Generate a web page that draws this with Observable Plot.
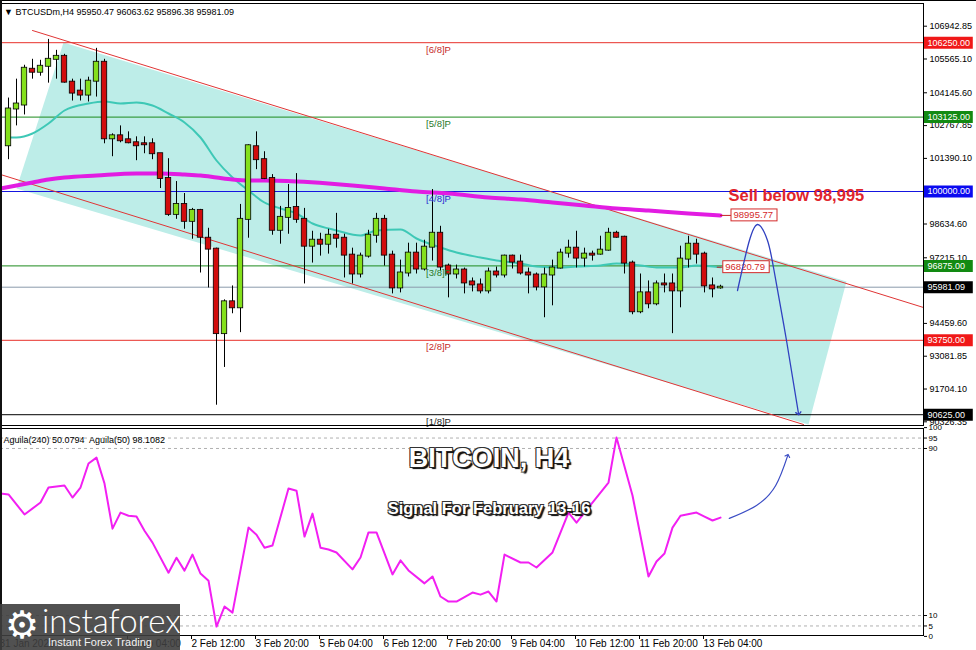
<!DOCTYPE html>
<html><head><meta charset="utf-8">
<script src="https://cdn.jsdelivr.net/npm/d3@7"></script>
<script src="https://cdn.jsdelivr.net/npm/@observablehq/plot@0.6"></script>
<style>
body{margin:0;background:#fff;}
#wrap{position:relative;width:976px;height:650px;overflow:hidden;background:#fff;font-family:"Liberation Sans",Arial,sans-serif;}
#wrap svg{position:absolute;left:0;overflow:visible;}
.ov{position:absolute;white-space:nowrap;}
.big{color:#fff;font-weight:bold;transform:translate(-50%,-50%);text-shadow:1px 1px 0 #222,2px 2px 1px #000,-1px -1px 0 #333,1px -1px 0 #333,-1px 1px 0 #333;}
</style></head><body><div id="wrap"></div>
<script>
// ---------- DATA ----------
const symbolHeader = "BTCUSDm,H4  95950.47 96063.62 95896.38 95981.09";
const openP  = [101920,103465,103632,105135,105010,105260,105553,105678,104593,104217,104050,104634,105428,102213,102338,102171,102046,102004,102004,101586,100543,99040,99457,98748,99207,98038,97580,94030,95366,95115,98831,101879,101336,100543,98372,98915,99332,98831,97704,97954,97787,98163,98038,97328,96535,97286,98163,98831,97328,95950,96577,97412,96744,97662,98247,96869,96535,96702,96201,96075,95825,96618,96493,97286,97036,96577,96493,95992,96493,96785,97412,97620,97203,97370,97370,97537,98247,98080,96994,94948,95742,95282,96117,96117,95825,97161,97787,97370,96034,95950.47];
const highP  = [103925,104718,105302,105553,105511,106388,105929,105762,104718,104718,104801,106012,105553,102422,102755,102505,102296,102296,102213,101586,101378,100418,99916,99290,99249,98455,97620,95449,96034,99457,101962,102505,101670,100710,99374,100292,100752,99290,98330,98247,98414,99082,98205,97620,97412,98372,99082,98998,97495,97119,97829,97829,97954,100083,98539,96952,96911,96785,96368,96326,96785,96827,97328,97328,97328,96785,96577,96785,97119,97579,97954,98330,97620,97495,98122,98455,98330,98122,97078,96535,96243,96243,96535,96535,97704,98122,97996,97453,96368,96063.62];
const lowP   = [101336,102755,103215,104718,104843,104551,104718,104551,103800,103800,103758,103966,102004,101461,102046,102004,101294,101586,101336,100125,98956,98831,98414,97996,96577,95950,91024,92610,94865,94072,98038,100918,100500,98163,97787,98205,98664,96117,96994,97286,97370,97620,96368,96117,96368,97203,97829,96869,95700,95742,96410,96535,96660,97078,96660,95533,96326,95700,95783,95700,95700,96368,96368,96744,96493,95700,95825,94698,95199,96744,97203,96785,96827,97078,97328,97495,98038,96535,94823,94865,95074,95199,95742,94030,95115,96785,96952,95742,95533,95896.38];
const closeP = [103465,103674,105177,105010,105260,105553,105678,104593,104133,104050,104634,105428,102213,102338,102130,102046,101920,101962,101586,100543,99040,99457,98748,99207,98080,97580,94030,95366,95115,98831,101920,101336,100543,98372,98915,99290,98831,97704,97954,97787,98163,98038,97328,96535,97286,98163,98831,97328,95950,96577,97412,96744,97662,98247,96827,96535,96702,96159,96075,95825,96618,96493,97286,97036,96577,96493,95992,96493,96785,97412,97620,97203,97370,97328,97537,98247,98080,96994,94948,95742,95282,96117,96075,95825,97161,97787,97370,96034,95909,95981.09];

// fast moving average (teal), read at sampled bars
const maFastBar = [0,1,3,5,7,10,12,14,16,18,20,22,24,26,28,30,32,34,36,38,40,41,44,46,49,51,54,56,59,61,64,66,69,71,74,76,79,81,84,86,89];
const maFastVal = [102268,102268,102436,102856,103402,103696,103780,103696,103738,103612,103276,102898,102268,101302,100588,100042,99538,99286,99076,98656,98446,98362,98152,98362,98404,98026,97648,97438,97228,97102,96976,96850,96808,96850,96892,96976,96892,96808,96808,96892,96820.79];
// slow moving average (magenta)
const maSlowBar = [-1,1,3,5,7,11,16,19,22,24,26,28,30,32,36,40,43,47,51,55,60,64,68,72,76,80,85,89];
const maSlowVal = [100126,100252,100378,100504,100588,100672,100756,100756,100714,100672,100588,100504,100462,100462,100420,100336,100252,100126,100000,99916,99748,99664,99538,99412,99286,99202,99076,98995.77];

// price channel
const upperTrendBar = [3, 114.375];
const upperTrendVal = [106762, 95128];
const lowerTrendBar = [-1, 99.375];
const lowerTrendVal = [100714, 90214];
const channelBar = [6.875, 104.75, 100, 1];
const channelVal = [106258, 96220, 90214, 100126];

// Murrey levels
const levelPrices = [106250, 103125, 100000, 96875, 93750, 90625];
const levelNames  = ["[6/8]P", "[5/8]P", "[4/8]P", "[3/8]P", "[2/8]P", "[1/8]P"];
const lastPrice = 95981.09;

// right price axis ticks
const priceTicks = [106942.85, 105565.10, 104145.60, 102767.85, 101390.10, 98634.60, 97215.10, 94459.60, 93081.85, 91704.10, 90326.35];

// forecast arrow (price panel)
const arrowBar = [91.125, 92.375, 93.625, 94.875, 95.625, 97.25, 98.75];
const arrowVal = [95842, 97648, 98614, 97942, 96808, 93742, 90676];
const sellText = "Sell below 98,995";

// Aguila oscillator
const aguilaBar = [-1,0,2,4,5,7,8,9,10,11,12,13,14,15,16,17,18,20,21,22,23,24,25,26,27,28,30,31,32,33,35,36,37,38,39,40,41,43,44,45,46,48,49,50,52,53,54,55,56,58,59,60,61,62,64,65,66,68,70,71,72,75,76,78,80,81,82,83,84,86,87,88,89];
const aguilaVal = [68.4,68.0,58.4,64.1,71.3,72.3,66.5,71.3,82.8,85.6,73.2,51.6,59.3,57.8,57.4,50.6,44.9,30.5,37.7,31.5,39.2,30.1,26.7,4.7,14.3,11.4,52.1,48.7,42.5,43.5,70.8,69.8,47.8,58.8,42.5,41.6,40.2,32.1,37.8,49.8,49.8,29.7,36.4,31.6,25.4,28.7,19.1,16.7,16.7,21.0,20.0,21.5,16.7,39.2,35.4,35.4,33.0,40.2,59.3,54.5,59.3,73.7,95.3,67.5,28.7,35.9,39.7,52.1,57.8,59.3,57.4,55.5,56.9];
const aguilaLevels = [95, 90, 10, 5];
const aguilaTicks = [100, 95, 90, 10, 5, 0];
const aguilaHeader = "Aguila(240) 50.0794  Aguila(50) 98.1082";
const oscArrowBar = [90.1, 93.5, 95.9, 97.4];
const oscArrowVal = [56.5, 62.7, 72.3, 86.6];

// time axis
const timeTickBar = [-1, 15, 23, 31, 39, 47, 55, 63, 71, 79, 87];
const timeTickText = ["31 Jan 2025", "1 Feb 04:00", "2 Feb 12:00", "3 Feb 20:00", "5 Feb 04:00", "6 Feb 12:00", "7 Feb 20:00", "9 Feb 04:00", "10 Feb 12:00", "11 Feb 20:00", "13 Feb 04:00"];

const title = "BITCOIN, H4";
const subtitle = "Signal For February 13-16";

// ---------- BUILD ----------
const levelLineColors = ["#e8302a", "#1c8a1c", "#1515e0", "#1c8a1c", "#e8302a", "#000000"];
const levelTextColors = ["#c62a2a", "#2a7a2a", "#2a2ad0", "#2a7a2a", "#c62a2a", "#222222"];
const tagColors = ["#f01818", "#128a12", "#0a0af0", "#128a12", "#f01818", "#000000"];

const bars = openP.map((o, i) => ({i, o, h: highP[i], l: lowP[i], c: closeP[i]}));
const lastIdx = bars.length - 1;
const pts = (xs, ys) => xs.map((x, k) => ({x, y: ys[k]}));
const maFast = pts(maFastBar, maFastVal);
const maSlow = pts(maSlowBar, maSlowVal);
const upper = pts(upperTrendBar, upperTrendVal);
const lower = pts(lowerTrendBar, lowerTrendVal);
const channel = pts(channelBar, channelVal);
const arrow = pts(arrowBar, arrowVal);
const aguila = pts(aguilaBar, aguilaVal);
const oscArrow = pts(oscArrowBar, oscArrowVal);
const tags = levelPrices.map((p, k) => ({p, col: tagColors[k]})).concat([{p: lastPrice, col: "#000000"}]);
const maTags = [
  {p: maSlowVal[maSlowVal.length - 1], a: 89, b: 90.375, c: 96.125},
  {p: maFastVal[maFastVal.length - 1], a: 88.6, b: 89.35, c: 95.15}
];
const tickMap = new Map(timeTickBar.map((b, k) => [b, timeTickText[k]]));

const xScale = {domain: [0, 100], range: [8, 808]};
const axisEnd = 114.375;
const font = "Liberation Sans, Arial, sans-serif";

const main = Plot.plot({
  width: 976, height: 426,
  marginLeft: 0, marginRight: 53, marginTop: 3, marginBottom: 1,
  x: {...xScale, axis: null},
  y: {domain: [90000, 108000], range: [191 + 10000/42, 191 - 8000/42], axis: null},
  style: {fontFamily: font, fontSize: "9px", background: "none", overflow: "visible"},
  marks: [
    Plot.line(channel, {x: "x", y: "y", fill: "#bdede8", stroke: "none"}),
    Plot.ruleY(levelPrices, {y: d => d, stroke: (d, k) => levelLineColors[k], strokeWidth: 1}),
    Plot.ruleY([lastPrice], {y: d => d, stroke: "#8a9aab", strokeWidth: 1}),
    Plot.line(upper, {x: "x", y: "y", stroke: "#e03535", strokeWidth: 1}),
    Plot.line(lower, {x: "x", y: "y", stroke: "#e03535", strokeWidth: 1}),
    Plot.line(maFast, {x: "x", y: "y", stroke: "#3ec8b6", strokeWidth: 2, curve: "monotone-x"}),
    Plot.line(maSlow, {x: "x", y: "y", stroke: "#e21ce2", strokeWidth: 4, curve: "monotone-x"}),
    Plot.ruleX(bars, {x: "i", y1: "l", y2: "h", stroke: "#000", strokeWidth: 1}),
    Plot.rect(bars, {x1: d => d.i - 0.34, x2: d => d.i + 0.34, y1: "o", y2: "c",
      fill: d => d.c >= d.o ? "#84e01c" : "#d20c0c", stroke: "#000", strokeWidth: 0.8,
      insetTop: -0.5, insetBottom: -0.5}),
    Plot.text(levelPrices, {x: 53.75, y: d => d, text: (d, k) => levelNames[k], fill: (d, k) => levelTextColors[k], dy: 7, fontSize: 9.5}),
    Plot.frame({stroke: "#000"}),
    Plot.axisY(priceTicks, {anchor: "right", tickFormat: d => d.toFixed(2), tickSize: 3, tickPadding: 3, fontSize: 9, label: null}),
    Plot.ruleY(tags, {y: "p", x1: 114.5, x2: 120.6, stroke: "col", strokeWidth: 12}),
    Plot.text(tags, {x: axisEnd, y: "p", text: d => d.p.toFixed(2), fill: "#fff", textAnchor: "start", dx: 4, fontSize: 9}),
    Plot.ruleY(maTags, {y: "p", x1: "a", x2: "b", stroke: "#c42020", strokeWidth: 1}),
    Plot.rect(maTags, {x1: "b", x2: "c", y1: d => d.p - 250, y2: d => d.p + 250, fill: "#fff", stroke: "#d42a2a", strokeWidth: 1}),
    Plot.text(maTags, {x: "b", y: "p", text: d => d.p.toFixed(2), fill: "#d42a2a", textAnchor: "start", dx: 2, fontSize: 9.5}),
    Plot.text([sellText], {x: lastIdx, y: 100000, text: d => d, dx: 8, dy: 4, textAnchor: "start", fill: "#e0242c", fontWeight: "bold", fontSize: 16.5}),
    Plot.line(arrow, {x: "x", y: "y", curve: "natural", stroke: "#3040c0", strokeWidth: 1.3, markerEnd: "arrow"})
  ]
});

const ind = Plot.plot({
  width: 976, height: 224,
  marginLeft: 0, marginRight: 53, marginTop: 2, marginBottom: 15,
  x: {...xScale, axis: null},
  y: {domain: [0, 100], range: [209.9, 1.1], axis: null},
  style: {fontFamily: font, fontSize: "9px", background: "none", overflow: "visible"},
  marks: [
    Plot.ruleY(aguilaLevels, {y: d => d, stroke: "#b0b0b0", strokeDasharray: "3,3"}),
    Plot.line(aguila, {x: "x", y: "y", stroke: "#f21ff2", strokeWidth: 2}),
    Plot.line(oscArrow, {x: "x", y: "y", curve: "natural", stroke: "#3a4cc4", strokeWidth: 1.2, markerEnd: "arrow"}),
    Plot.frame({stroke: "#000"}),
    Plot.text([aguilaHeader], {frameAnchor: "top-left", text: d => d, dx: 3, dy: 8, fontSize: 9, fill: "#000"}),
    Plot.axisY(aguilaTicks, {anchor: "right", tickSize: 3, tickPadding: 2, fontSize: 8, label: null}),
    Plot.axisX(timeTickBar, {anchor: "bottom", tickSize: 4, tickPadding: 0, tickFormat: d => tickMap.get(d), fontSize: 10, textAnchor: "start", dx: -1, label: null})
  ]
});

const wrap = document.getElementById("wrap");
main.style.top = "0px";
ind.style.top = "426px";
wrap.appendChild(main);
wrap.appendChild(ind);

function ov(html, style, cls) {
  const d = document.createElement("div");
  d.className = "ov" + (cls ? " " + cls : "");
  d.style.cssText = style;
  d.textContent = html;
  wrap.appendChild(d);
  return d;
}
ov("▼ " + symbolHeader, "left:4px;top:7px;font-size:9px;color:#000;");
ov(title, "left:489px;top:458px;font-size:27px;", "big");
ov(subtitle, "left:489px;top:508px;font-size:16.5px;", "big");
// edges
ov("", "left:0;top:0;width:976px;height:1px;background:#000;");
ov("", "left:0;top:0;width:2px;height:650px;background:#111;");
// logo
ov("", "left:0;top:604px;width:180px;height:46px;background:rgba(62,62,62,0.9);");
ov("⚙", "left:5px;top:603px;font-size:38px;line-height:44px;color:#fff;font-family:'DejaVu Sans';");
ov("instaforex", "left:42px;top:600px;font-size:33px;line-height:40px;color:#fff;font-family:Lato,'Open Sans',sans-serif;font-weight:300;");
ov("Instant Forex Trading", "left:48px;top:636px;font-size:11px;line-height:13px;color:#f2f2f2;");
</script></body></html>
